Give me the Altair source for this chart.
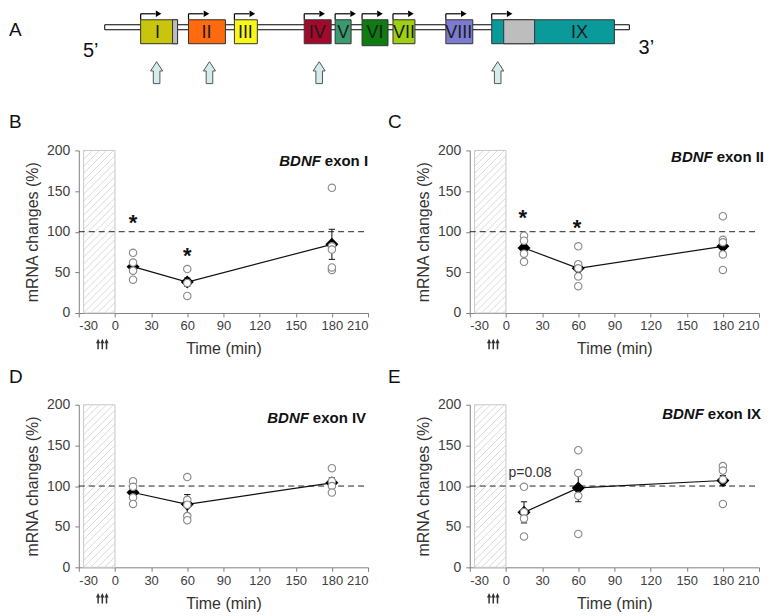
import altair as alt
import pandas as pd

FONT = "Liberation Sans"

# ---------------- Panel A data: BDNF gene schematic (schematic positions) ----------------
exon_names = ["I", "II", "III", "IV", "V", "VI", "VII", "VIII", "IX"]
exon_start = [36, 84, 130, 200, 231, 258, 289, 342, 388]
exon_end = [73, 121, 153, 227, 247, 284, 311, 369, 511]
exon_label_pos = [53, 102, 141, 213, 239, 271, 300, 355, 476]
exon_colors = ["#c9c50c", "#ff6a0f", "#f7f71a", "#a3092b", "#3b9a70",
               "#0e7c10", "#9fcf12", "#7c7bd2", "#0a9a9a"]
utr_start = [68, 400]
utr_end = [73, 431]
gene_span = [0, 526]
primer_pos = [52, 105, 215, 394]

# ---------------- Panels B-E data ----------------
times = [15, 60, 180]
inj_times = [-14, -10.5, -7]

mean_I = [57, 38, 84.5]
se_I = [5, 5, 18.5]
pts_I = {15: [74, 62, 52, 41], 60: [54, 37, 21], 180: [154, 82, 78, 53, 56]}
star_I_x = [15, 60]
star_I_y = [118, 78]

mean_II = [80, 55, 82]
se_II = [4, 8, 7]
pts_II = {15: [95, 89, 73, 63], 60: [82, 60, 55, 45, 33], 180: [119, 90, 87, 72, 53]}
star_II_x = [14, 59]
star_II_y = [124, 112]

mean_IV = [92, 77.5, 104]
se_IV = [6, 12, 6]
pts_IV = {15: [106, 99, 86, 78], 60: [111, 83, 77, 63, 58], 180: [122, 106, 100, 92]}

mean_IX = [67.6, 97.7, 106.8]
se_IX = [13, 17, 6]
pts_IX = {15: [99, 68, 60, 38], 60: [144, 116, 88, 41], 180: [124.5, 119, 108, 78]}
note_IX = ("p=0.08", 20, 116)

# ---------------- layout constants ----------------
W, H = 290, 163
PXW, PXH = W / 240, H / 200

xscale = alt.Scale(domain=[-30, 210], nice=False, zero=False)
yscale = alt.Scale(domain=[0, 200], nice=False, zero=False)
xaxis = alt.Axis(values=list(range(-30, 211, 30)), title="Time (min)", tickSize=4,
                 labelPadding=3, titlePadding=8, grid=False, labelFontSize=13,
                 labelExpr="'' + datum.value")
yaxis = alt.Axis(values=[0, 50, 100, 150, 200], title="mRNA changes (%)", tickSize=4,
                 labelPadding=5, titlePadding=6, grid=False)


def X(f):
    return alt.X(f, type="quantitative", scale=xscale, axis=xaxis)


def Y(f):
    return alt.Y(f, type="quantitative", scale=yscale, axis=yaxis)


BOLD_W = {'e': 556, 'x': 556, 'o': 611, 'n': 611, ' ': 278, 'I': 278, 'V': 667, 'X': 667}


def bold_width(s, size):
    return sum(BOLD_W.get(c, 600) for c in s) * size / 1000.0


def hatch_df(x0, x1, y0, y1, step=7.0):
    Wp = (x1 - x0) * PXW
    Hp = (y1 - y0) * PXH
    rows = []
    c = -Wp + step / 2
    while c < Hp:
        u0 = max(0.0, -c)
        u1 = min(Wp, Hp - c)
        if u1 > u0:
            rows.append({"hx": x0 + u0 / PXW, "hy": y0 + (u0 + c) / PXH,
                         "hx2": x0 + u1 / PXW, "hy2": y0 + (u1 + c) / PXH})
        c += step
    return pd.DataFrame(rows)


one = pd.DataFrame({"a": [0]})


def panel(letter, letter_x, exon_txt, title_right, title_base, means, ses, pts,
          star_x=None, star_y=None, note=None):
    mdf = pd.DataFrame({"t": times, "m": means})
    mdf["lo"] = [m - s for m, s in zip(means, ses)]
    mdf["hi"] = [m + s for m, s in zip(means, ses)]
    mdf["tl"] = mdf["t"] - 2.6
    mdf["tr"] = mdf["t"] + 2.6
    pdf = pd.DataFrame([{"t": t, "v": v} for t in times for v in pts[t]])

    layers = []
    rect = pd.DataFrame({"x": [-26], "x2": [0], "y": [0], "y2": [200]})
    layers.append(alt.Chart(rect).mark_rect(fill="white", stroke="#c8c8c8", strokeWidth=1)
                  .encode(x=X("x"), x2="x2", y=Y("y"), y2="y2"))
    layers.append(alt.Chart(hatch_df(-26, 0, 0, 200)).mark_rule(color="#cfcfcf", strokeWidth=0.8)
                  .encode(x=X("hx"), y=Y("hy"), x2="hx2", y2="hy2"))
    ref = pd.DataFrame({"x": [-30], "x2": [207], "y": [100]})
    layers.append(alt.Chart(ref).mark_rule(color="#222222", strokeWidth=1, strokeDash=[6, 4])
                  .encode(x=X("x"), x2="x2", y=Y("y")))
    layers.append(alt.Chart(mdf).mark_line(color="#111111", strokeWidth=1.2)
                  .encode(x=X("t"), y=Y("m")))
    layers.append(alt.Chart(mdf).mark_rule(color="#111111", strokeWidth=1)
                  .encode(x=X("t"), y=Y("lo"), y2="hi"))
    layers.append(alt.Chart(mdf).mark_rule(color="#111111", strokeWidth=1)
                  .encode(x=X("tl"), x2="tr", y=Y("lo")))
    layers.append(alt.Chart(mdf).mark_rule(color="#111111", strokeWidth=1)
                  .encode(x=X("tl"), x2="tr", y=Y("hi")))
    layers.append(alt.Chart(mdf).mark_point(shape="diamond", filled=True, color="black",
                                            size=170, opacity=1)
                  .encode(x=X("t"), y=Y("m")))
    layers.append(alt.Chart(pdf).mark_point(shape="circle", filled=True, fill="white",
                                            stroke="#8a8a8a", strokeWidth=1.1, size=55, opacity=1)
                  .encode(x=X("t"), y=Y("v")))
    if star_x:
        sdf = pd.DataFrame({"x": star_x, "y": star_y, "s": ["*"] * len(star_x)})
        layers.append(alt.Chart(sdf).mark_text(fontSize=22, fontWeight="bold", color="#111111",
                                               baseline="alphabetic", dy=13)
                      .encode(x=X("x"), y=Y("y"), text="s"))
    if note:
        ndf = pd.DataFrame({"x": [note[1]], "y": [note[2]], "s": [note[0]]})
        layers.append(alt.Chart(ndf).mark_text(fontSize=14, color="#333333", baseline="middle")
                      .encode(x=X("x"), y=Y("y"), text="s"))
    # panel title: "BDNF" italic bold + "exon ..." bold
    layers.append(alt.Chart(one).mark_text(text=exon_txt, fontSize=15, fontWeight="bold",
                                           color="#111111", align="right", baseline="alphabetic")
                  .encode(x=alt.value(title_right), y=alt.value(title_base)))
    layers.append(alt.Chart(one).mark_text(text="BDNF", fontSize=15, fontWeight="bold",
                                           fontStyle="italic", color="#111111", align="right",
                                           baseline="alphabetic")
                  .encode(x=alt.value(title_right - bold_width(exon_txt, 15) - 4),
                          y=alt.value(title_base)))
    layers.append(alt.Chart(one).mark_text(text=letter, fontSize=19, color="#111111",
                                           align="left", baseline="middle")
                  .encode(x=alt.value(letter_x), y=alt.value(-28)))
    idf = pd.DataFrame({"t": inj_times})
    layers.append(alt.Chart(idf).mark_point(shape="arrow", filled=True, color="#333333",
                                            size=110, opacity=1)
                  .encode(x=X("t"), y=alt.value(H + 31)))
    return alt.layer(*layers).properties(width=W, height=H)


# ---------------- Panel A ----------------
DX = alt.Scale(domain=[-26, 656], nice=False, zero=False)
DY = alt.Scale(domain=[0, 121], nice=False, zero=False, reverse=True)


def AX(f):
    return alt.X(f, type="quantitative", scale=DX, axis=None)


def AY(f):
    return alt.Y(f, type="quantitative", scale=DY, axis=None)


BOX_TOP, BOX_BOT, ARROW_Y = 10, 34, 4
exdf = pd.DataFrame({"name": exon_names, "x": exon_start, "x2": exon_end,
                     "lx": exon_label_pos, "color": exon_colors})
exdf["y"] = BOX_TOP
exdf["y2"] = [36 if n == "VI" else BOX_BOT for n in exon_names]
exdf["ly"] = 23
exdf["ay"] = ARROW_Y
exdf["ax2"] = exdf["x"] + 15
exdf["ahx"] = exdf["x"] + 18
gdf = pd.DataFrame({"x": [gene_span[0]], "x2": [gene_span[1]], "y": [15], "y2": [20]})
udf = pd.DataFrame({"x": utr_start, "x2": utr_end, "y": [BOX_TOP, BOX_TOP], "y2": [BOX_BOT, BOX_BOT]})
prdf = pd.DataFrame({"x": primer_pos, "y": [63] * len(primer_pos)})
ends = pd.DataFrame({"x": [-14, 543], "y": [47, 44], "s": ["5’", "3’"]})

ARROW_UP = "M-0.3,1L0.3,1L0.3,-0.15L0.55,-0.15L0,-1L-0.55,-0.15L-0.3,-0.15Z"

A = alt.layer(
    alt.Chart(gdf).mark_rect(fill="white", stroke="black", strokeWidth=1)
    .encode(x=AX("x"), x2="x2", y=AY("y"), y2="y2"),
    alt.Chart(exdf).mark_rule(color="black", strokeWidth=1.2)
    .encode(x=AX("x"), y=AY("y"), y2="ay"),
    alt.Chart(exdf).mark_rule(color="black", strokeWidth=1.2)
    .encode(x=AX("x"), x2="ax2", y=AY("ay")),
    alt.Chart(exdf).mark_point(shape="triangle-right", filled=True, color="black", size=42, opacity=1)
    .encode(x=AX("ahx"), y=AY("ay")),
    alt.Chart(exdf).mark_rect(stroke="#333333", strokeWidth=1)
    .encode(x=AX("x"), x2="x2", y=AY("y"), y2="y2", fill=alt.Fill("color:N", scale=None)),
    alt.Chart(udf).mark_rect(fill="#bdbdbd", stroke="#333333", strokeWidth=1)
    .encode(x=AX("x"), x2="x2", y=AY("y"), y2="y2"),
    alt.Chart(exdf).mark_text(fontSize=18, color="#1b1b1b", baseline="middle",
                              font="Liberation Sans Narrow, Liberation Sans")
    .encode(x=AX("lx"), y=AY("ly"), text="name"),
    alt.Chart(prdf).mark_point(shape=ARROW_UP, filled=True, fill="#d4ecec", stroke="#555555",
                               strokeWidth=1, size=484, opacity=1)
    .encode(x=AX("x"), y=AY("y")),
    alt.Chart(ends).mark_text(fontSize=20, color="#111111", baseline="alphabetic")
    .encode(x=AX("x"), y=AY("y"), text="s"),
    alt.Chart(one).mark_text(text="A", fontSize=19, color="#111111", align="left", baseline="middle")
    .encode(x=alt.value(-70), y=alt.value(20)),
).properties(width=682, height=121)

B = panel("B", -70, "exon I", 290, 16, mean_I, se_I, pts_I, star_I_x, star_I_y)
C = panel("C", -82, "exon II", 295, 12, mean_II, se_II, pts_II, star_II_x, star_II_y)
D = panel("D", -70, "exon IV", 288, 18, mean_IV, se_IV, pts_IV)
E = panel("E", -82, "exon IX", 292, 14, mean_IX, se_IX, pts_IX, note=note_IX)

grid = alt.concat(B, C, D, E, columns=2, spacing={"row": 92, "column": 102}, bounds="flush")

chart = (
    alt.vconcat(A, grid, spacing=20, bounds="flush")
    .properties(padding=0)
    .configure_view(stroke="transparent")
    .configure_axis(labelFont=FONT, titleFont=FONT, labelFontSize=14, titleFontSize=16,
                    labelColor="#404040", titleColor="#333333", titleFontWeight="normal",
                    domainColor="#808080", tickColor="#808080")
    .configure_text(font=FONT)
)

chart.save("out.html", embed_options={"renderer": "svg", "actions": False})
